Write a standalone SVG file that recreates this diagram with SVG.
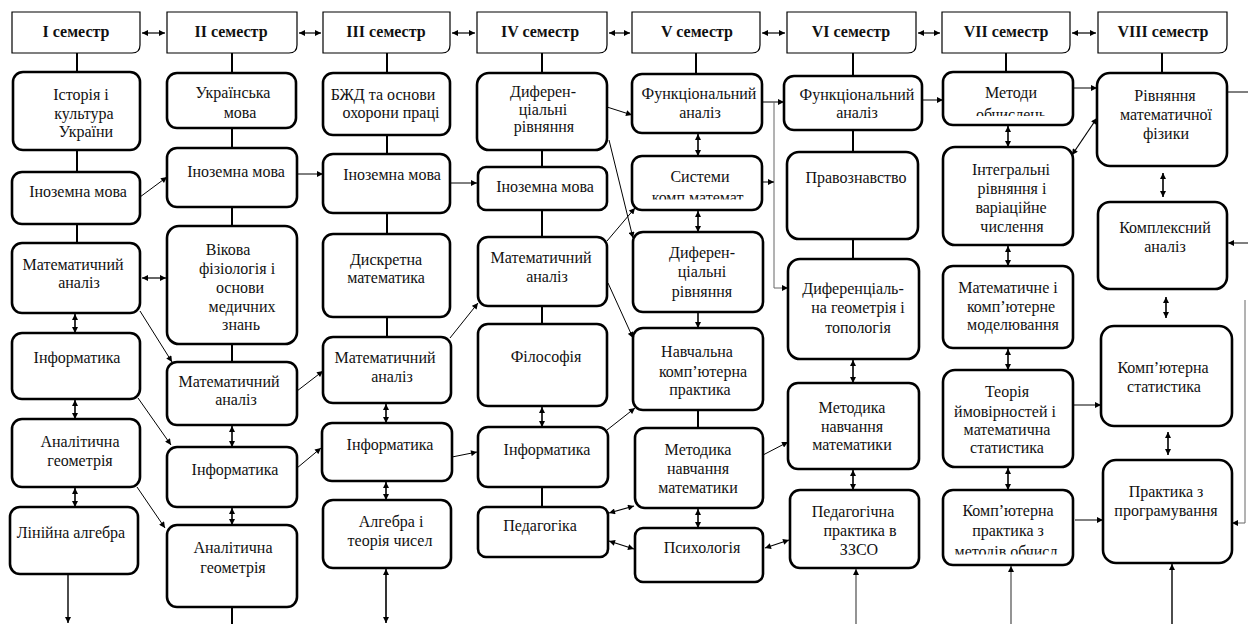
<svg xmlns="http://www.w3.org/2000/svg" width="1248" height="624" viewBox="0 0 1248 624" font-family="'Liberation Serif', serif">
<style>
.bg{fill:#fff}
.box{fill:#fff;stroke:#000;stroke-width:2.6}
.hdr{fill:#fff;stroke:#000;stroke-width:1.2}
text{font-family:'Liberation Serif',serif;font-size:16px;fill:#111;text-anchor:middle}
.ht{font-weight:bold;font-size:16px}
.ln{stroke:#000;stroke-width:2;fill:none}
.ar{stroke:#000;stroke-width:1;fill:none;marker-end:url(#ah)}
.dar{stroke:#000;stroke-width:1.2;fill:none;marker-start:url(#ah);marker-end:url(#ah)}
.dav{stroke:#000;stroke-width:1.6;fill:none;marker-start:url(#ah);marker-end:url(#ah)}
.gr{stroke:#666}
</style>
<defs>
<marker id="ah" viewBox="0 0 10 10" refX="10" refY="5" markerWidth="7" markerHeight="6" markerUnits="userSpaceOnUse" orient="auto-start-reverse"><path d="M0,0 L10,5 L0,10 z" fill="#000"/></marker>
<clipPath id="c5b"><rect x="632" y="150" width="130" height="49.5"/></clipPath>
<clipPath id="c7a"><rect x="943" y="70" width="130" height="46"/></clipPath>
<clipPath id="c7e"><rect x="943" y="488" width="130" height="66.5"/></clipPath>
</defs>
<rect class="bg" width="1248" height="624"/>

<g id="headers">
<g id="h1"><path class="hdr" d="M12 12H140V45Q140 53 132 53H12Z"/><text class="ht" x="76" y="37">I семестр</text></g>
<g id="h2"><path class="hdr" d="M167 12H297V45Q297 53 289 53H167Z"/><text class="ht" x="231" y="37">II семестр</text></g>
<g id="h3"><path class="hdr" d="M323 12H450V45Q450 53 442 53H323Z"/><text class="ht" x="386" y="37">III семестр</text></g>
<g id="h4"><path class="hdr" d="M477 12H607V45Q607 53 599 53H477Z"/><text class="ht" x="540" y="37">IV семестр</text></g>
<g id="h5"><path class="hdr" d="M632 12H760V45Q760 53 752 53H632Z"/><text class="ht" x="697" y="37">V семестр</text></g>
<g id="h6"><path class="hdr" d="M787 12H916V45Q916 53 908 53H787Z"/><text class="ht" x="851" y="37">VI семестр</text></g>
<g id="h7"><path class="hdr" d="M942 12H1070V45Q1070 53 1062 53H942Z"/><text class="ht" x="1006" y="37">VII семестр</text></g>
<g id="h8"><path class="hdr" d="M1098 12H1227V45Q1227 53 1219 53H1098Z"/><text class="ht" x="1163" y="37">VIII семестр</text></g>
</g>

<g id="connectors">
<line class="dar" x1="142" y1="33" x2="165" y2="33"/>
<line class="dar" x1="299" y1="33" x2="321" y2="33"/>
<line class="dar" x1="452" y1="33" x2="475" y2="33"/>
<line class="dar" x1="609" y1="33" x2="630" y2="33"/>
<line class="dar" x1="762" y1="33" x2="785" y2="33"/>
<line class="dar" x1="918" y1="33" x2="940" y2="33"/>
<line class="dar" x1="1072" y1="33" x2="1096" y2="33"/>
<path class="ln" d="M77 53V72M77 150V172M77 224V243"/>
<path class="ln" d="M232 53V73M232 128V148M232 207V226M232 344V362M232 607V624"/>
<path class="ln" d="M387 53V73M387 135V154M387 213V234M387 317V337"/>
<path class="ln" d="M542 53V73M542 150V167M542 210V237M542 306V324M542 487V507"/>
<path class="ln" d="M696 53V74M698 410V428"/>
<path class="ln" d="M853 53V76M853 130V152M853 239V259"/>
<path class="ln" d="M1006 53V72M1162 53V73"/>
<line class="dav" x1="75" y1="314" x2="75" y2="333"/>
<line class="dav" x1="75" y1="400" x2="75" y2="419"/>
<line class="dav" x1="75" y1="488" x2="75" y2="507"/>
<line class="dav" x1="232" y1="426" x2="232" y2="447"/>
<line class="dav" x1="232" y1="508" x2="232" y2="525"/>
<line class="dav" x1="386" y1="404" x2="386" y2="423"/>
<line class="dav" x1="386" y1="482" x2="386" y2="500"/>
<line class="dav" x1="386" y1="569" x2="386" y2="623"/>
<line class="dav" x1="542" y1="407" x2="542" y2="427"/>
<line class="dav" x1="698" y1="134" x2="698" y2="156"/>
<line class="dav" x1="698" y1="211" x2="698" y2="232"/>
<line class="dav" x1="698" y1="509" x2="698" y2="528"/>
<line class="ar" style="stroke-width:1.6" x1="698" y1="313" x2="698" y2="328"/>
<line class="dav" x1="853" y1="360" x2="853" y2="383"/>
<line class="dav" x1="853" y1="470" x2="853" y2="490"/>
<line class="dav" x1="1008" y1="126" x2="1008" y2="147"/>
<line class="dav" x1="1008" y1="246" x2="1008" y2="266"/>
<line class="dav" x1="1008" y1="349" x2="1008" y2="370"/>
<line class="dav" x1="1008" y1="468" x2="1008" y2="490"/>
<line class="dav" x1="1163" y1="173" x2="1163" y2="197"/>
<line class="dav" x1="1166" y1="297" x2="1166" y2="318"/>
<line class="dav" x1="1168" y1="432" x2="1168" y2="455"/>
<line class="ar" style="stroke-width:1.4" x1="68" y1="574" x2="68" y2="623"/>
<line class="ar gr" style="stroke-width:1.4" x1="856" y1="624" x2="856" y2="569"/>
<line class="ar gr" style="stroke-width:1.4" x1="1011" y1="624" x2="1011" y2="566"/>
<line class="ar" style="stroke-width:1.4" x1="1172" y1="624" x2="1172" y2="564"/>
<line class="ar" x1="140" y1="197" x2="167" y2="177"/>
<line class="dar" x1="142" y1="278" x2="166" y2="278"/>
<line class="ar" x1="140" y1="311" x2="172" y2="362"/>
<line class="ar" x1="138" y1="398" x2="171" y2="445"/>
<line class="ar" x1="137" y1="487" x2="165" y2="528"/>
<line class="ar" x1="297" y1="174" x2="323" y2="174"/>
<line class="ar" x1="297" y1="391" x2="323" y2="371"/>
<line class="ar" x1="297" y1="468" x2="321" y2="448"/>
<line class="ar" x1="450" y1="183" x2="477" y2="183"/>
<line class="ar" x1="450" y1="338" x2="478" y2="303"/>
<line class="ar" x1="452" y1="457" x2="477" y2="452"/>
<line class="ar" x1="607" y1="107" x2="632" y2="115"/>
<line class="ar" x1="609" y1="140" x2="633" y2="238"/>
<line class="ar" x1="607" y1="241" x2="635" y2="208"/>
<line class="ar" x1="608" y1="283" x2="633" y2="338"/>
<line class="ar" x1="607" y1="430" x2="635" y2="408"/>
<line class="dar" x1="609" y1="513" x2="634" y2="506"/>
<line class="dar" x1="609" y1="541" x2="634" y2="549"/>
<line class="ar" x1="762" y1="102" x2="784" y2="102"/>
<polyline class="ar gr" points="774,102 774,288 788,288"/>
<line class="ar" x1="762" y1="182" x2="774" y2="182"/>
<line class="ar" x1="763" y1="455" x2="788" y2="442"/>
<line class="dar" x1="765" y1="548" x2="789" y2="540"/>
<line class="ar" x1="922" y1="100" x2="943" y2="100"/>
<line class="ar" x1="1073" y1="88" x2="1097" y2="88"/>
<line class="dar" x1="1072" y1="155" x2="1097" y2="118"/>
<line class="ar" x1="1073" y1="405" x2="1101" y2="405"/>
<line class="ar" x1="1075" y1="520" x2="1103" y2="520"/>
<line x1="1227" y1="92" x2="1248" y2="92" stroke="#000" stroke-width="1"/>
<line class="ar" x1="1248" y1="243" x2="1228" y2="243"/>
<polyline class="ar gr" points="1245,300 1245,523 1232,523"/>
</g>

<g id="col1">
<g id="n1a"><rect class="box" x="13" y="72" width="127" height="78" rx="10"/><text x="81" y="100">Історія і</text><text x="84" y="119">культура</text><text x="86" y="137">України</text></g>
<g id="n1b"><rect class="box" x="12" y="172" width="128" height="52" rx="10"/><text x="78" y="197">Іноземна мова</text></g>
<g id="n1c"><rect class="box" x="12" y="243" width="128" height="70" rx="10"/><text x="73" y="270">Математичний</text><text x="79" y="288">аналіз</text></g>
<g id="n1d"><rect class="box" x="12" y="333" width="128" height="66" rx="10"/><text x="77" y="363">Інформатика</text></g>
<g id="n1e"><rect class="box" x="12" y="419" width="128" height="68" rx="10"/><text x="80" y="447">Аналітична</text><text x="80" y="466">геометрія</text></g>
<g id="n1f"><rect class="box" x="10" y="507" width="128" height="67" rx="10"/><text x="71" y="538">Лінійна алгебра</text></g>
</g>

<g id="col2">
<g id="n2a"><rect class="box" x="167" y="73" width="129" height="55" rx="10"/><text x="233" y="98">Українська</text><text x="240" y="118">мова</text></g>
<g id="n2b"><rect class="box" x="167" y="148" width="130" height="59" rx="10"/><text x="236" y="177">Іноземна мова</text></g>
<g id="n2c"><rect class="box" x="167" y="226" width="130" height="118" rx="12"/><text x="228" y="255">Вікова</text><text x="237" y="274">фізіологія і</text><text x="240" y="293">основи</text><text x="242" y="312">медичних</text><text x="241" y="330">знань</text></g>
<g id="n2d"><rect class="box" x="167" y="362" width="130" height="63" rx="10"/><text x="229" y="387">Математичний</text><text x="236" y="405">аналіз</text></g>
<g id="n2e"><rect class="box" x="167" y="447" width="130" height="60" rx="10"/><text x="235" y="475">Інформатика</text></g>
<g id="n2f"><rect class="box" x="167" y="525" width="130" height="82" rx="10"/><text x="233" y="553">Аналітична</text><text x="233" y="573">геометрія</text></g>
</g>

<g id="col3">
<g id="n3a"><rect class="box" x="323" y="73" width="127" height="62" rx="10"/><text x="383" y="100">БЖД та основи</text><text x="391" y="118">охорони праці</text></g>
<g id="n3b"><rect class="box" x="323" y="154" width="127" height="59" rx="10"/><text x="392" y="180">Іноземна мова</text></g>
<g id="n3c"><rect class="box" x="323" y="234" width="127" height="83" rx="10"/><text x="386" y="265">Дискретна</text><text x="386" y="283">математика</text></g>
<g id="n3d"><rect class="box" x="323" y="337" width="128" height="66" rx="10"/><text x="385" y="363">Математичний</text><text x="392" y="382">аналіз</text></g>
<g id="n3e"><rect class="box" x="322" y="423" width="130" height="58" rx="10"/><text x="390" y="450">Інформатика</text></g>
<g id="n3f"><rect class="box" x="323" y="500" width="128" height="68" rx="10"/><text x="391" y="527">Алгебра і</text><text x="390" y="546">теорія чисел</text></g>
</g>

<g id="col4">
<g id="n4a"><rect class="box" x="477" y="73" width="130" height="77" rx="12"/><text x="543" y="97">Диферен-</text><text x="543" y="115">ціальні</text><text x="544" y="132">рівняння</text></g>
<g id="n4b"><rect class="box" x="478" y="167" width="129" height="43" rx="8"/><text x="545" y="192">Іноземна мова</text></g>
<g id="n4c"><rect class="box" x="478" y="237" width="129" height="69" rx="10"/><text x="541" y="263">Математичний</text><text x="547" y="282">аналіз</text></g>
<g id="n4d"><rect class="box" x="478" y="324" width="129" height="82" rx="10"/><text x="546" y="362">Філософія</text></g>
<g id="n4e"><rect class="box" x="478" y="427" width="130" height="60" rx="10"/><text x="547" y="455">Інформатика</text></g>
<g id="n4f"><rect class="box" x="478" y="507" width="130" height="50" rx="8"/><text x="540" y="531">Педагогіка</text></g>
</g>

<g id="col5">
<g id="n5a"><rect class="box" x="632" y="74" width="130" height="59" rx="10"/><text x="699" y="99">Функціональний</text><text x="700" y="118">аналіз</text></g>
<g id="n5b"><rect class="box" x="632" y="156" width="130" height="54" rx="10"/><text x="700" y="182">Системи</text><text x="699" y="203" clip-path="url(#c5b)">комп.математ.</text></g>
<g id="n5c"><rect class="box" x="633" y="232" width="130" height="80" rx="10"/><text x="702" y="258">Диферен-</text><text x="702" y="277">ціальні</text><text x="702" y="297">рівняння</text></g>
<g id="n5d"><rect class="box" x="633" y="328" width="130" height="82" rx="10"/><text x="697" y="357">Навчальна</text><text x="703" y="377">комп’ютерна</text><text x="700" y="395">практика</text></g>
<g id="n5e"><rect class="box" x="635" y="428" width="128" height="80" rx="10"/><text x="698" y="455">Методика</text><text x="698" y="474">навчання</text><text x="698" y="493">математики</text></g>
<g id="n5f"><rect class="box" x="635" y="528" width="128" height="54" rx="8"/><text x="702" y="553">Психологія</text></g>
</g>

<g id="col6">
<g id="n6a"><rect class="box" x="784" y="76" width="138" height="54" rx="10"/><text x="857" y="100">Функціональний</text><text x="857" y="118">аналіз</text></g>
<g id="n6b"><rect class="box" x="787" y="152" width="131" height="87" rx="12"/><text x="856" y="183">Правознавство</text></g>
<g id="n6c"><rect class="box" x="788" y="259" width="131" height="100" rx="12"/><text x="853" y="294">Диференціаль-</text><text x="858" y="313">на геометрія і</text><text x="858" y="333">топологія</text></g>
<g id="n6d"><rect class="box" x="788" y="383" width="131" height="86" rx="10"/><text x="852" y="413">Методика</text><text x="852" y="432">навчання</text><text x="852" y="450">математики</text></g>
<g id="n6e"><rect class="box" x="790" y="490" width="129" height="78" rx="10"/><text x="853" y="517">Педагогічна</text><text x="860" y="536">практика в</text><text x="859" y="555">ЗЗСО</text></g>
</g>

<g id="col7">
<g id="n7a"><rect class="box" x="943" y="72" width="130" height="53" rx="10"/><text x="1011" y="98">Методи</text><text x="1011" y="120" clip-path="url(#c7a)">обчислень</text></g>
<g id="n7b"><rect class="box" x="943" y="147" width="130" height="98" rx="12"/><text x="1011" y="175">Інтегральні</text><text x="1012" y="194">рівняння і</text><text x="1011" y="213">варіаційне</text><text x="1012" y="232">числення</text></g>
<g id="n7c"><rect class="box" x="943" y="266" width="130" height="82" rx="10"/><text x="1008" y="293">Математичне і</text><text x="1011" y="312">комп’ютерне</text><text x="1013" y="330">моделювання</text></g>
<g id="n7d"><rect class="box" x="943" y="370" width="130" height="97" rx="12"/><text x="1007" y="397">Теорія</text><text x="1005" y="417">ймовірностей і</text><text x="1007" y="435">математична</text><text x="1007" y="453">статистика</text></g>
<g id="n7e"><rect class="box" x="943" y="490" width="130" height="75" rx="10"/><text x="1008" y="516">Комп’ютерна</text><text x="1008" y="536">практика з</text><text x="1008" y="557" clip-path="url(#c7e)">методів обчисл.</text></g>
</g>

<g id="col8">
<g id="n8a"><rect class="box" x="1097" y="73" width="130" height="93" rx="13"/><text x="1165" y="101">Рівняння</text><text x="1166" y="120">математичної</text><text x="1166" y="139">фізики</text></g>
<g id="n8b"><rect class="box" x="1098" y="202" width="129" height="87" rx="12"/><text x="1165" y="233">Комплексний</text><text x="1165" y="252">аналіз</text></g>
<g id="n8c"><rect class="box" x="1101" y="326" width="131" height="100" rx="13"/><text x="1163" y="373">Комп’ютерна</text><text x="1164" y="392">статистика</text></g>
<g id="n8d"><rect class="box" x="1103" y="460" width="129" height="103" rx="13"/><text x="1166" y="497">Практика з</text><text x="1166" y="516">програмування</text></g>
</g>
</svg>
